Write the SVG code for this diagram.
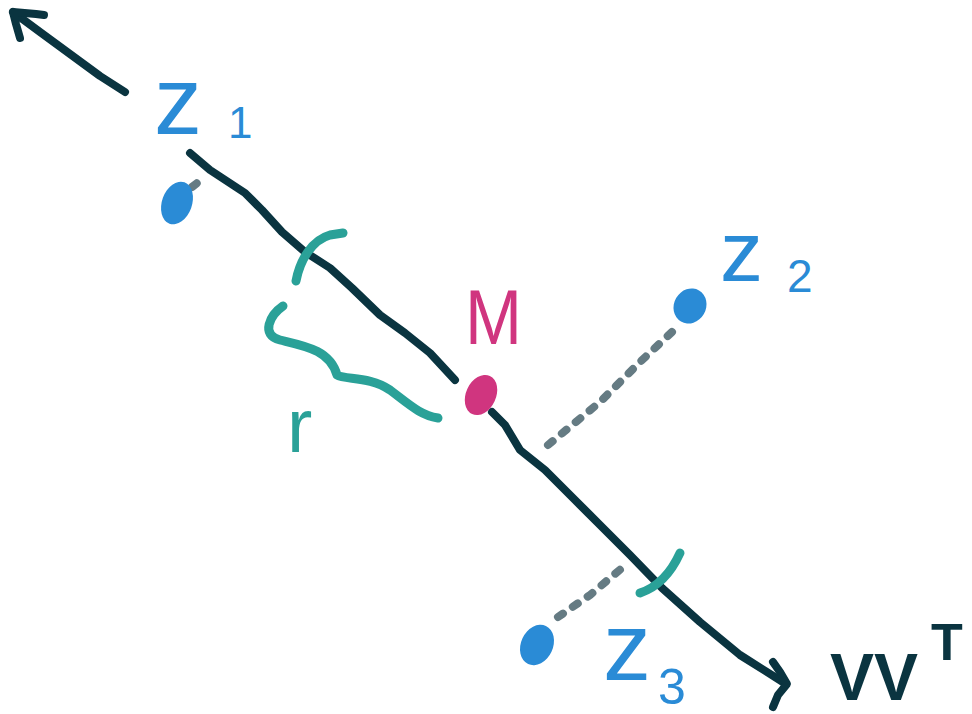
<svg xmlns="http://www.w3.org/2000/svg" width="972" height="714" viewBox="0 0 972 714">
<style>
.ink{fill:none;stroke:#0a3440;stroke-width:8;stroke-linecap:round;stroke-linejoin:round}
.teal{fill:none;stroke:#2aa198;stroke-width:9;stroke-linecap:round;stroke-linejoin:round}
.dash{fill:none;stroke:#657b83;stroke-width:8;stroke-linecap:round;stroke-dasharray:6 12}
.pt{fill:#2a8bd6}
.lbl{font-family:"Liberation Sans","DejaVu Sans",sans-serif}
.blue{fill:#2a8bd6}
</style>
<rect width="972" height="714" fill="#ffffff"/>
<g id="connectors">
  <path class="ink" d="M125,92 L100,76 L70,54 L40,32 L13,12"/>
  <path class="ink" d="M44,15 L36,14 L13,12 L16,24 L20,38"/>
  <path class="ink" d="M190,153 L210,170 L245,193 L262,210 L282,232 L305,252 L330,268 L352,288 L380,315 L405,333 L430,353 L455,380"/>
  <path class="ink" d="M492,412 L505,425 L520,450 L545,470 L575,500 L600,525 L630,555 L662,588 L700,622 L740,655 L786,684"/>
  <path class="ink" d="M773,662 L780,672 L787,684 L778,695 L773,707"/>
  <path class="dash" d="M192,187 L206,176"/>
  <path class="dash" d="M548,445 L600,402 L640,362 L672,332"/>
  <path class="dash" d="M558,617 L590,595 L622,568"/>
  <path class="teal" d="M296,281 C300,260 312,240 330,235 L343,233"/>
  <path class="teal" d="M283,306 C270,315 260,335 280,340 C305,346 330,350 337,375 C345,380 370,376 390,390 C410,405 420,415 438,418"/>
  <path class="teal" d="M640,593 C655,588 670,575 680,553"/>
</g>
<g id="z1">
  <ellipse class="pt" cx="177" cy="203" rx="15" ry="22" transform="rotate(20 177 203)"/>
  <text class="lbl blue" x="154" y="134" font-size="96">z</text>
  <text class="lbl blue" x="228" y="138" font-size="44">1</text>
</g>
<g id="z2">
  <ellipse class="pt" cx="690" cy="306" rx="16" ry="18" transform="rotate(30 690 306)"/>
  <text class="lbl blue" x="720" y="281" font-size="86">z</text>
  <text class="lbl blue" x="787" y="292" font-size="46">2</text>
</g>
<g id="z3">
  <ellipse class="pt" cx="537" cy="645" rx="16" ry="21" transform="rotate(25 537 645)"/>
  <text class="lbl blue" x="603" y="680" font-size="96">z</text>
  <text class="lbl blue" x="658" y="704" font-size="50">3</text>
</g>
<g id="M">
  <ellipse cx="481" cy="395" rx="15" ry="21" fill="#d0357f" transform="rotate(25 481 395)"/>
  <text class="lbl" x="465" y="344" font-size="78" fill="#d0357f" textLength="57" lengthAdjust="spacingAndGlyphs">M</text>
</g>
<g id="r">
  <text class="lbl" x="287" y="452" font-size="76" fill="#2aa198">r</text>
</g>
<g id="VVT">
  <text class="lbl" x="830" y="700" font-size="66" font-weight="bold" fill="#0a3440">VV</text>
  <text class="lbl" x="931" y="660" font-size="52" font-weight="bold" fill="#0a3440">T</text>
</g>
</svg>
